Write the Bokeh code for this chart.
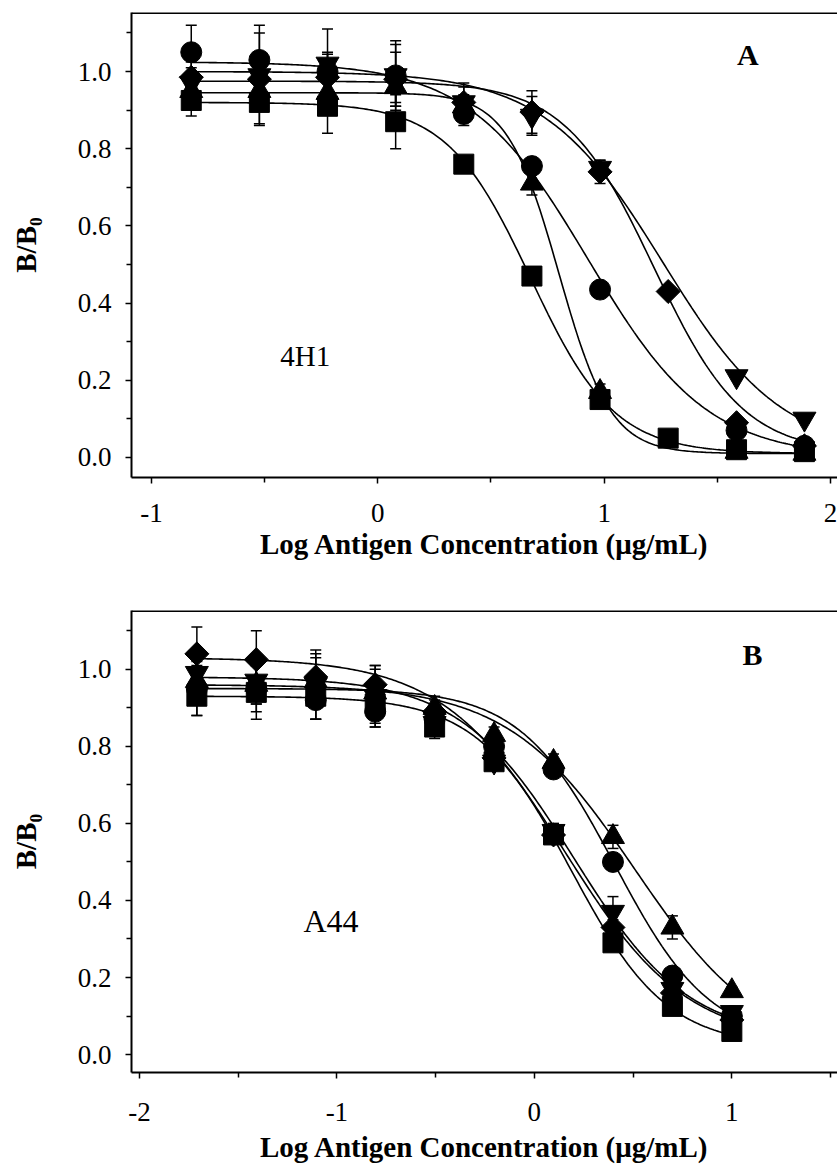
import numpy as np
from bokeh.plotting import figure
from bokeh.layouts import column
from bokeh.models import FixedTicker, Whisker, ColumnDataSource, Label, Span, TeeHead
from bokeh.embed import file_html
from bokeh.resources import INLINE

# ---------------- Panel A (4H1) ----------------
XA = [-0.824, -0.523, -0.222, 0.079, 0.380, 0.681, 0.982, 1.283, 1.585, 1.885]
A_circle = [1.05, 1.03, 1.00, 0.99, 0.89, 0.755, 0.435, np.nan, 0.07, 0.03]
A_square = [0.925, 0.92, 0.91, 0.87, 0.76, 0.47, 0.15, 0.05, 0.02, 0.015]
A_tri_up = [0.95, 0.95, 0.945, 0.96, 0.91, 0.71, 0.17, np.nan, 0.015, 0.01]
A_tri_dn = [0.97, 0.99, 1.02, 0.99, 0.92, 0.885, 0.75, np.nan, 0.21, 0.10]
A_diamond = [0.985, 0.98, 0.985, 0.98, 0.92, 0.895, 0.74, 0.43, 0.09, 0.03]

A_circle_err = [0.07, 0.07, 0.05, 0.08, 0.03, 0.02, 0.01, 0.0, 0.01, 0.01]
A_square_err = [0.04, 0.055, 0.07, 0.07, 0.01, 0.01, 0.01, 0.01, 0.01, 0.01]
A_tri_up_err = [0.03, 0.04, 0.05, 0.04, 0.03, 0.03, 0.02, 0.0, 0.01, 0.01]
A_tri_dn_err = [0.04, 0.13, 0.09, 0.09, 0.05, 0.05, 0.02, 0.0, 0.01, 0.01]
A_diamond_err = [0.04, 0.05, 0.06, 0.07, 0.04, 0.055, 0.03, 0.01, 0.01, 0.01]

# four-parameter logistic fits: top, bottom, log IC50, slope
A_fit_circle = (1.025, 0.0, 0.93, 1.65)
A_fit_square = (0.92, 0.01, 0.675, 2.35)
A_fit_tri_up = (0.945, 0.01, 0.80, 3.8)
A_fit_tri_dn = (1.0, 0.01, 1.26, 1.65)
A_fit_diamond = (0.975, 0.01, 1.22, 2.2)

# ---------------- Panel B (A44) ----------------
XB = [-1.709, -1.408, -1.107, -0.806, -0.505, -0.204, 0.097, 0.398, 0.699, 1.0]
B_diamond = [1.04, 1.025, 0.98, 0.96, 0.89, 0.77, 0.57, 0.33, 0.16, 0.09]
B_tri_dn = [0.99, 0.97, 0.96, 0.93, 0.86, 0.76, 0.58, 0.37, 0.17, 0.11]
B_circle = [0.95, 0.95, 0.92, 0.89, 0.87, 0.80, 0.74, 0.50, 0.205, 0.10]
B_square = [0.93, 0.94, 0.93, 0.91, 0.85, 0.76, 0.57, 0.29, 0.125, 0.06]
B_tri_up = [0.97, 0.96, 0.97, 0.94, 0.90, 0.83, 0.76, 0.565, 0.33, 0.165]

B_diamond_err = [0.07, 0.075, 0.06, 0.05, 0.03, 0.02, 0.02, 0.02, 0.01, 0.01]
B_tri_dn_err = [0.05, 0.06, 0.09, 0.08, 0.03, 0.02, 0.02, 0.04, 0.01, 0.01]
B_circle_err = [0.07, 0.06, 0.05, 0.04, 0.03, 0.02, 0.02, 0.02, 0.01, 0.01]
B_square_err = [0.05, 0.07, 0.06, 0.05, 0.03, 0.02, 0.02, 0.02, 0.01, 0.01]
B_tri_up_err = [0.04, 0.05, 0.06, 0.06, 0.03, 0.02, 0.02, 0.03, 0.03, 0.01]

B_fit_diamond = (1.03, 0.03, 0.15, 1.4)
B_fit_tri_dn = (0.98, 0.04, 0.20, 1.5)
B_fit_circle = (0.95, 0.03, 0.41, 1.8)
B_fit_square = (0.93, 0.02, 0.19, 1.8)
B_fit_tri_up = (0.96, 0.0, 0.51, 1.35)

A_xticks = [-1, 0, 1, 2]
A_xminor = [-0.5, 0.5, 1.5]
B_xticks = [-2, -1, 0, 1]
B_xminor = [-1.5, -0.5, 0.5, 1.5]
Y_ticks = [0.0, 0.2, 0.4, 0.6, 0.8, 1.0]
Y_minor = [0.1, 0.3, 0.5, 0.7, 0.9, 1.1]

X_TITLE = "Log Antigen Concentration (\u03bcg/mL)"
Y_TITLE = "B/B\u2080"

FONT = "Liberation Serif"
MARKER_STYLE = {
    "circle": ("circle", 21, 0.0),
    "square": ("square", 20, 0.0),
    "triangle": ("triangle", 23, 0.0),
    "inverted_triangle": ("inverted_triangle", 23, 0.0),
    "diamond": ("square", 17, np.pi / 4),
}


def logistic(x, fit):
    top, bottom, c, h = fit
    return bottom + (top - bottom) / (1.0 + 10.0 ** ((x - c) * h))


def make_panel(xs, series, x_range, y_range, xticks, xminor, height,
               border_top, border_left, border_bottom, name_text, name_xy, name_size,
               letter, letter_xy, tick_standoff, xlab_standoff):
    p = figure(width=837, height=height, x_range=x_range, y_range=y_range,
               output_backend="svg", toolbar_location=None,
               min_border_left=border_left, min_border_right=0,
               min_border_top=border_top, min_border_bottom=border_bottom)
    p.background_fill_color = "white"
    p.border_fill_color = "white"
    p.outline_line_color = None
    p.xgrid.visible = False
    p.ygrid.visible = False

    p.xaxis.ticker = FixedTicker(ticks=xticks, minor_ticks=xminor)
    p.yaxis.ticker = FixedTicker(ticks=Y_ticks, minor_ticks=Y_minor)
    p.yaxis.major_label_overrides = {t: f"{t:.1f}" for t in Y_ticks}
    p.xaxis.major_label_overrides = {t: f"{t:d}" for t in xticks}
    for ax in (p.xaxis[0], p.yaxis[0]):
        ax.axis_line_color = "black"
        ax.axis_line_width = 2
        ax.major_tick_line_color = "black"
        ax.minor_tick_line_color = "black"
        ax.major_tick_line_width = 1.5
        ax.minor_tick_line_width = 1.5
        ax.major_tick_in = 0
        ax.major_tick_out = 6
        ax.minor_tick_in = 0
        ax.minor_tick_out = 5
        ax.major_label_text_font = FONT
        ax.major_label_text_font_size = "27px"
        ax.major_label_text_color = "black"
        ax.axis_label_text_font = FONT
        ax.axis_label_text_font_size = "29px"
        ax.axis_label_text_font_style = "bold"
        ax.axis_label_text_color = "black"
    p.xaxis.axis_label = X_TITLE
    p.yaxis.axis_label = Y_TITLE
    p.xaxis.major_label_standoff = tick_standoff
    p.xaxis.axis_label_standoff = xlab_standoff
    p.yaxis.major_label_standoff = 14
    p.yaxis.axis_label_standoff = 33

    p.add_layout(Span(location=y_range[1], dimension="width", line_color="black", line_width=3))

    xs_arr = np.array(xs)
    # fitted curves
    for marker, ys, err, fit in series:
        ys_arr = np.array(ys, dtype=float)
        ok = ~np.isnan(ys_arr)
        xc = np.linspace(xs_arr[ok].min(), xs_arr[ok].max(), 300)
        p.line(xc, logistic(xc, fit), line_color="black", line_width=1.6)
    # error bars
    for marker, ys, err, fit in series:
        ys_arr = np.array(ys, dtype=float)
        err_arr = np.array(err, dtype=float)
        ok = ~np.isnan(ys_arr)
        src = ColumnDataSource(dict(x=xs_arr[ok], upper=(ys_arr + err_arr)[ok], lower=(ys_arr - err_arr)[ok]))
        w = Whisker(source=src, base="x", upper="upper", lower="lower",
                    line_color="black", line_width=1.5,
                    upper_head=TeeHead(size=11, line_width=1.5, line_color="black"),
                    lower_head=TeeHead(size=11, line_width=1.5, line_color="black"))
        p.add_layout(w)
    # markers
    for marker, ys, err, fit in series:
        ys_arr = np.array(ys, dtype=float)
        ok = ~np.isnan(ys_arr)
        mk, sz, ang = MARKER_STYLE[marker]
        p.scatter(xs_arr[ok], ys_arr[ok], marker=mk, size=sz, angle=ang,
                  fill_color="black", line_color="black")

    p.add_layout(Label(x=name_xy[0], y=name_xy[1], text=name_text, text_font=FONT,
                       text_font_size=name_size, text_align="center", text_baseline="middle",
                       text_color="black"))
    p.add_layout(Label(x=letter_xy[0], y=letter_xy[1], text=letter, text_font=FONT,
                       text_font_size="30px", text_font_style="bold", text_align="center",
                       text_baseline="middle", text_color="black"))
    return p


series_A = [
    ("circle", A_circle, A_circle_err, A_fit_circle),
    ("square", A_square, A_square_err, A_fit_square),
    ("triangle", A_tri_up, A_tri_up_err, A_fit_tri_up),
    ("inverted_triangle", A_tri_dn, A_tri_dn_err, A_fit_tri_dn),
    ("diamond", A_diamond, A_diamond_err, A_fit_diamond),
]
series_B = [
    ("circle", B_circle, B_circle_err, B_fit_circle),
    ("square", B_square, B_square_err, B_fit_square),
    ("triangle", B_tri_up, B_tri_up_err, B_fit_tri_up),
    ("inverted_triangle", B_tri_dn, B_tri_dn_err, B_fit_tri_dn),
    ("diamond", B_diamond, B_diamond_err, B_fit_diamond),
]

pA = make_panel(XA, series_A, (-1.088, 2.031), (-0.052, 1.153), A_xticks, A_xminor,
                595, 12, 131, 118, "4H1", (-0.32, 0.264), "29px", "A", (1.635, 1.045), 20, 3)
pB = make_panel(XB, series_B, (-2.04, 1.535), (-0.0465, 1.1525), B_xticks, B_xminor,
                570, 15, 128, 91, "A44", (-1.03, 0.346), "32px", "B", (1.104, 1.038), 24, 7)

layout = column(pA, pB, spacing=0)
open("out.html", "w").write(file_html(layout, INLINE))
